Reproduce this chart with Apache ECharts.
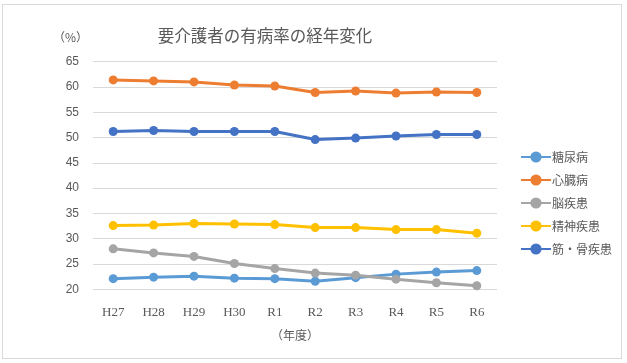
<!DOCTYPE html>
<html><head><meta charset="utf-8">
<script src="https://cdn.jsdelivr.net/npm/echarts@6/dist/echarts.min.js"></script>
<style>
html,body{margin:0;padding:0;background:#fff;}
#frame{position:absolute;left:2px;top:4px;width:620px;height:355px;border:1px solid #d9d9d9;box-sizing:border-box;}
#c{position:absolute;left:0;top:0;width:627px;height:363px;}
</style></head>
<body><div id="frame"></div><div id="c"></div>
<script>
const categories = ['H27','H28','H29','H30','R1','R2','R3','R4','R5','R6'];
const diabetes = [22.1,22.4,22.6,22.2,22.1,21.6,22.3,23.0,23.4,23.7];
const heart = [61.4,61.2,61.0,60.4,60.2,58.9,59.2,58.8,59.0,58.9];
const brain = [28.0,27.2,26.5,25.1,24.1,23.2,22.8,22.0,21.3,20.7];
const mental = [32.6,32.7,33.0,32.9,32.8,32.2,32.2,31.8,31.8,31.1];
const muscle = [51.2,51.4,51.2,51.2,51.2,49.6,49.9,50.3,50.6,50.6];
const seriesNames = ['糖尿病','心臓病','脳疾患','精神疾患','筋・骨疾患'];
const colors = ['#5b9bd5','#ed7d31','#a5a5a5','#ffc000','#4472c4'];
const yTicks = [20,25,30,35,40,45,50,55,60,65];

const chart = echarts.init(document.getElementById('c'));
const data = [diabetes, heart, brain, mental, muscle];
chart.setOption({
  animation:false,
  title:{text:'要介護者の有病率の経年変化',left:260,top:22,textAlign:'center',
    textStyle:{fontFamily:'Noto Sans CJK JP',fontSize:16.5,fontWeight:'normal',color:'#595959'}},
  legend:{orient:'vertical',left:515,top:145,itemGap:9,itemWidth:30,itemHeight:14,
    data:seriesNames,
    textStyle:{fontFamily:'Noto Sans CJK JP',fontSize:12,color:'#595959',padding:[0,0,0,-4],lineHeight:14,height:14}},
  grid:{left:93,right:130,top:61.7,bottom:363-289.3},
  xAxis:{type:'category',data:categories,boundaryGap:true,
    name:'（年度）',nameLocation:'middle',nameGap:40,
    nameTextStyle:{fontFamily:'Noto Sans CJK JP',fontSize:12,color:'#595959'},
    axisLine:{show:false},axisTick:{show:false},
    axisLabel:{margin:17,fontFamily:'Liberation Serif',fontSize:13,color:'#595959'}},
  yAxis:{type:'value',min:20,max:65,interval:5,
    axisLine:{show:false},axisTick:{show:false},
    splitLine:{lineStyle:{color:'#d9d9d9',width:1}},
    axisLabel:{margin:14,fontFamily:'Liberation Sans',fontSize:12,color:'#595959',
      formatter:v=>yTicks.includes(v)?String(v):''}},
  graphic:[{type:'text',left:53,top:31,style:{text:'（%）',fontFamily:'Noto Sans CJK JP',fontSize:12,fill:'#595959'}}],
  series:data.map((d,i)=>({name:seriesNames[i],type:'line',data:d,
    symbol:'circle',symbolSize:9,
    lineStyle:{color:colors[i],width:3},
    itemStyle:{color:colors[i]}}))
});
</script></body></html>
